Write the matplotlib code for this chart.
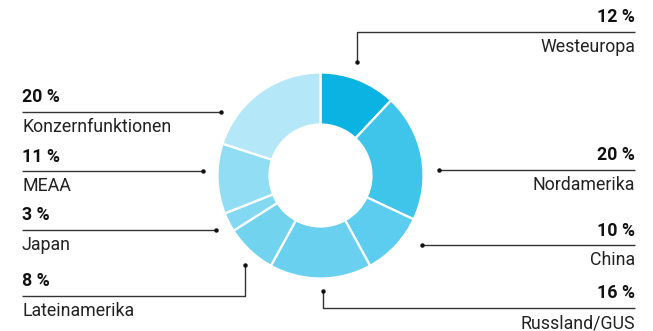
import matplotlib
matplotlib.use("Agg")
import matplotlib.pyplot as plt

# Data
regions = ["Westeuropa", "Nordamerika", "China", "Russland/GUS",
           "Lateinamerika", "Japan", "MEAA", "Konzernfunktionen"]
shares = [12, 20, 10, 16, 8, 3, 11, 20]
pct_labels = ["12 %", "20 %", "10 %", "16 %", "8 %", "3 %", "11 %", "20 %"]
colors = ["#0ab3e1", "#3fc5ea", "#5ccdee", "#69d0ef", "#72d3ef",
          "#84d9f2", "#91ddf3", "#b4e7f7"]

W, H = 653, 331
fig = plt.figure(figsize=(W / 100, H / 100), dpi=100)
ax = fig.add_axes([0, 0, 1, 1])

cx, cy = 320.5, H - 175.5
R, r = 103, 51
ax.pie(shares, colors=colors, startangle=90, counterclock=False,
       center=(cx, cy), radius=R, frame=True,
       wedgeprops=dict(width=R - r, edgecolor="white", linewidth=1.6))
ax.set_xlim(0, W)
ax.set_ylim(0, H)
ax.set_aspect("equal")
ax.axis("off")

FONT = "Roboto"
lc = "#333333"
fs = 12.8

def Y(y):
    return H - y

right_x = 635
left_x = 22

leaders = {
    "Westeuropa": dict(pts=[(357, 62), (357, 32), (right_x, 32)], side="r", ly=32),
    "Nordamerika": dict(pts=[(439, 169.5), (right_x, 169.5)], side="r", ly=169.5),
    "China": dict(pts=[(422, 245), (right_x, 245)], side="r", ly=245),
    "Russland/GUS": dict(pts=[(323, 291), (323, 308), (right_x, 308)], side="r", ly=308),
    "Lateinamerika": dict(pts=[(245, 265), (245, 295.5), (left_x, 295.5)], side="l", ly=295.5),
    "Japan": dict(pts=[(216, 230), (left_x, 230)], side="l", ly=230),
    "MEAA": dict(pts=[(203, 171), (left_x, 171)], side="l", ly=171),
    "Konzernfunktionen": dict(pts=[(221, 112), (left_x, 112)], side="l", ly=112),
}

for name, pct in zip(regions, pct_labels):
    d = leaders[name]
    xs = [p[0] for p in d["pts"]]
    ys = [Y(p[1]) for p in d["pts"]]
    ax.plot(xs, ys, color=lc, lw=1.0, solid_capstyle="butt")
    ax.plot(xs[0], ys[0], "o", color="#111111", ms=2.2)
    ly = d["ly"]
    ax.text(right_x if d["side"] == "r" else left_x, Y(ly - 14.5), pct,
            ha="right" if d["side"] == "r" else "left", va="center",
            fontsize=fs, fontweight="bold", family=FONT, color="#111111")
    ax.text(right_x if d["side"] == "r" else left_x, Y(ly + 15), name,
            ha="right" if d["side"] == "r" else "left", va="center",
            fontsize=fs, family=FONT, color="#222222")

fig.savefig("out.png", dpi=100)
